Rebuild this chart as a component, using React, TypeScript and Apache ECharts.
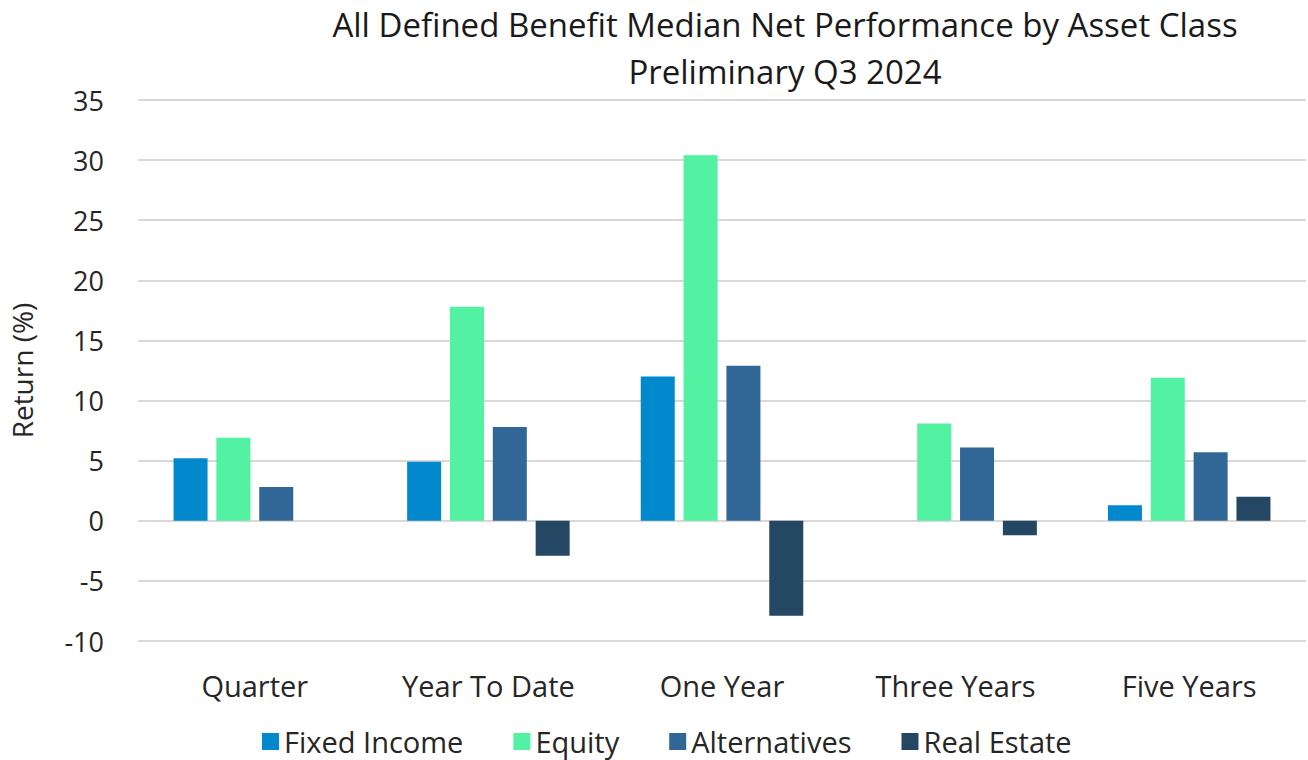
import React, { useEffect, useRef } from "react";
import * as echarts from "echarts";

const categories = ["Quarter", "Year To Date", "One Year", "Three Years", "Five Years"];
const fixedIncome = [5.2, 4.9, 12.0, null, 1.3];
const equity = [6.9, 17.8, 30.4, 8.1, 11.9];
const alternatives = [2.8, 7.8, 12.9, 6.1, 5.7];
const realEstate = [null, -2.9, -7.9, -1.2, 2.0];
const seriesNames = ["Fixed Income", "Equity", "Alternatives", "Real Estate"];
const colors = ["#0288CC", "#52F2A2", "#316797", "#244863"];
const titleLines = ["All Defined Benefit Median Net Performance by Asset Class", "Preliminary Q3 2024"];

const FONT = "'Open Sans', Lato, sans-serif";

export default function App() {
  const ref = useRef<HTMLDivElement>(null);
  useEffect(() => {
    if (!ref.current) return;
    const chart = echarts.init(ref.current, undefined, { renderer: "svg" });
    const data = [fixedIncome, equity, alternatives, realEstate];
    chart.setOption({
      animation: false,
      backgroundColor: "#ffffff",
      textStyle: { fontFamily: FONT },
      graphic: [
        {
          type: "text",
          x: 785,
          y: 1,
          style: {
            text: titleLines.join("\n"),
            textAlign: "center",
            fontFamily: FONT,
            fontSize: 33,
            lineHeight: 47,
            fill: "#1a1a1a",
          },
        },
      ],
      legend: {
        top: 726,
        left: 262,
        padding: 0,
        itemWidth: 17,
        itemHeight: 17,
        itemGap: 50,
        icon: "rect",
        textStyle: { fontSize: 29, lineHeight: 31, color: "#262626", fontFamily: FONT },
        data: seriesNames,
      },
      grid: { left: 132, right: 2, top: 100, bottom: 119, containLabel: false },
      xAxis: {
        type: "category",
        data: categories,
        axisLine: { show: false, onZero: false },
        axisTick: { show: false },
        axisLabel: { fontSize: 29, color: "#262626", margin: 30, fontFamily: FONT },
      },
      yAxis: {
        type: "value",
        min: -10,
        max: 35,
        interval: 5,
        name: "Return (%)",
        nameLocation: "middle",
        nameGap: 102,
        nameRotate: 90,
        nameTextStyle: { fontSize: 28, color: "#262626", fontFamily: FONT },
        axisLine: { show: false },
        axisTick: { show: false },
        axisLabel: { fontSize: 27, color: "#262626", margin: 34, fontFamily: FONT },
        splitLine: { lineStyle: { color: "#D9D9D9", width: 2 } },
      },
      series: seriesNames.map((name, i) => ({
        name,
        type: "bar",
        data: data[i],
        itemStyle: { color: colors[i] },
        barWidth: 34,
        barGap: "26%",
      })),
    });
    return () => chart.dispose();
  }, []);
  return (
    <div
      ref={ref}
      style={{ position: "fixed", left: 0, top: 0, width: 1308, height: 760 }}
    />
  );
}
